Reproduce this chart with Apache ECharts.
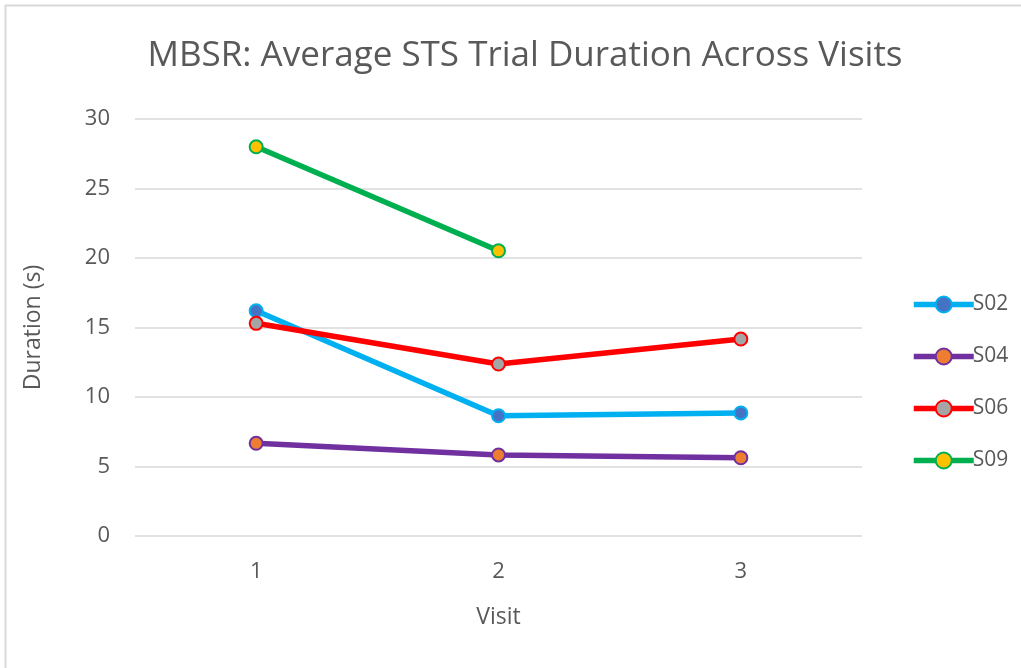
<!DOCTYPE html>
<html>
<head>
<meta charset="utf-8">
<script src="https://cdn.jsdelivr.net/npm/echarts@6/dist/echarts.min.js"></script>
<style>
  html, body { margin: 0; padding: 0; background: #fff; }
  #chart { width: 1021px; height: 668px; }
</style>
</head>
<body>
<div id="chart"></div>
<script>
const visits = ["1", "2", "3"];
const s02 = [16.2, 8.65, 8.85];
const s04 = [6.67, 5.83, 5.63];
const s06 = [15.3, 12.37, 14.17];
const s09 = [28.0, 20.52, null];
const yTicks = [0, 5, 10, 15, 20, 25, 30];

const textColor = "#595959";
const font = "'Open Sans', sans-serif";

const makeSeries = (name, data, lineColor, fillColor) => ({
  name,
  type: "line",
  data,
  symbol: "circle",
  symbolSize: 13,
  lineStyle: { color: lineColor, width: 5.5 },
  itemStyle: { color: fillColor, borderColor: lineColor, borderWidth: 2 },
  connectNulls: false,
  z: 3,
});

const chart = echarts.init(document.getElementById("chart"));
chart.setOption({
  backgroundColor: "#fff",
  animation: false,
  title: {
    text: "MBSR: Average STS Trial Duration Across Visits",
    left: 520,
    textAlign: "center",
    top: 34,
    textStyle: { color: textColor, fontFamily: font, fontSize: 35, fontWeight: "normal" },
  },
  grid: { left: 135, right: 159, top: 119, bottom: 132 },
  legend: {
    orient: "vertical",
    left: 906,
    top: 289,
    itemGap: 31,
    itemWidth: 60,
    itemHeight: 20,
    lineStyle: { width: 5.5 },
    textStyle: { color: textColor, fontFamily: font, fontSize: 21, padding: [0, 0, 0, -6] },
    data: ["S02", "S04", "S06", "S09"],
  },
  xAxis: {
    type: "category",
    data: visits,
    boundaryGap: true,
    name: "Visit",
    nameLocation: "middle",
    nameGap: 70,
    nameTextStyle: { color: textColor, fontFamily: font, fontSize: 23 },
    axisLine: { show: false },
    axisTick: { show: false },
    axisLabel: { color: textColor, fontFamily: font, fontSize: 22, margin: 25 },
  },
  yAxis: {
    type: "value",
    min: yTicks[0],
    max: yTicks[yTicks.length - 1],
    interval: 5,
    name: "Duration (s)",
    nameLocation: "middle",
    nameGap: 90,
    nameTextStyle: { color: textColor, fontFamily: font, fontSize: 23 },
    axisLine: { show: false },
    axisTick: { show: false },
    axisLabel: { color: textColor, fontFamily: font, fontSize: 22, margin: 25 },
    splitLine: { lineStyle: { color: "#d9d9d9", width: 1.5 } },
  },
  graphic: [
    { type: "line", shape: { x1: 5, y1: 5.5, x2: 1021, y2: 5.5 }, style: { stroke: "#d9d9d9", lineWidth: 2 } },
    { type: "line", shape: { x1: 5.5, y1: 5, x2: 5.5, y2: 668 }, style: { stroke: "#d9d9d9", lineWidth: 2 } },
  ],
  series: [
    makeSeries("S02", s02, "#00B0F0", "#4472C4"),
    makeSeries("S04", s04, "#7030A0", "#ED7D31"),
    makeSeries("S06", s06, "#FF0000", "#A5A5A5"),
    makeSeries("S09", s09, "#00B050", "#FFC000"),
  ],
});
</script>
</body>
</html>
